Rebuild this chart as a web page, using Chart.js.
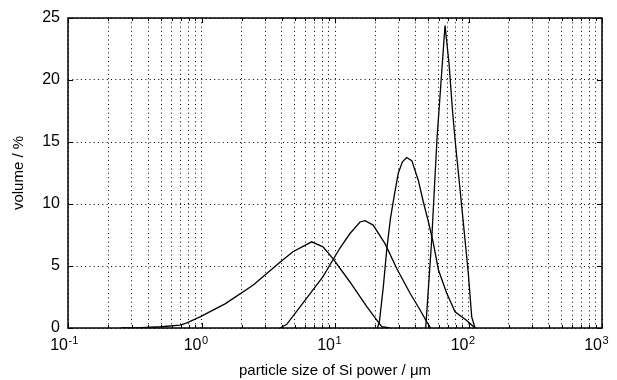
<!DOCTYPE html>
<html><head><meta charset="utf-8">
<script src="https://cdn.jsdelivr.net/npm/chart.js@4"></script>
<style>html,body{margin:0;padding:0;background:#fff;}</style>
</head><body>
<canvas id="c" width="617" height="380"></canvas>
<script>
// ---- data ----
const sizesA  = [0.25, 0.35, 0.5, 0.69, 0.77, 0.975, 1.5, 2.43, 3.87, 4.84, 6.68, 8.13, 9.66, 12.9, 17.3, 20.5, 22.4, 25.8];
const volumeA = [0, 0.02, 0.1, 0.24, 0.4, 0.9, 1.95, 3.45, 5.3, 6.15, 6.95, 6.55, 5.6, 3.73, 1.72, 0.65, 0.1, 0];

const sizesB  = [3.87, 4.35, 5.75, 8.13, 10.9, 12.9, 15.4, 16.8, 19.3, 23.7, 29.0, 36.5, 43.4, 48.7, 52];
const volumeB = [0, 0.3, 2.0, 4.15, 6.45, 7.6, 8.55, 8.65, 8.3, 6.8, 4.8, 2.8, 1.45, 0.5, 0];

const sizesC  = [20.8, 21.5, 23.0, 24.4, 26.0, 27.4, 29.8, 32, 34.4, 37.6, 42.1, 45.8, 50.0, 54.6, 59.5, 68.7, 79.3, 97.0, 112];
const volumeC = [0, 0.5, 3.3, 6.3, 8.8, 10.3, 12.5, 13.4, 13.75, 13.5, 11.9, 10.2, 8.6, 6.8, 4.7, 2.8, 1.3, 0.6, 0];

const sizesD  = [47.8, 53.0, 58.1, 62.3, 66.7, 71.5, 75.8, 79.3, 89.0, 99.7, 105.7, 111.9];
const volumeD = [0, 7.1, 15.3, 19.9, 24.4, 21.3, 17.6, 15.2, 9.8, 4.4, 0.9, 0];

const xMajorTicks = [0.1, 1, 10, 100, 1000];
const xTickBase   = ['10', '10', '10', '10', '10'];
const xExponents  = ['-1', '0', '1', '2', '3'];
const yTicks = [0, 5, 10, 15, 20, 25];
const xTitle = 'particle size of Si power / \u03BCm';
const yTitle = 'volume / %';

// all log ticks (majors + 2..9 minors)
const xAllTicks = [];
for (let i = 0; i < xMajorTicks.length; i++) {
  xAllTicks.push(xMajorTicks[i]);
  if (i < xMajorTicks.length - 1) for (let k = 2; k <= 9; k++) xAllTicks.push(+(k * xMajorTicks[i]).toPrecision(6));
}
const majorIndex = v => xMajorTicks.findIndex(m => Math.abs(m - v) < 1e-9);

const toPts = (xs, ys) => xs.map((x, i) => ({x, y: ys[i]}));
const lineStyle = {borderColor: '#000', borderWidth: 1.3, pointRadius: 0, tension: 0, fill: false};

const FONT = "'Liberation Sans', Arial, sans-serif";

const boxPlugin = {
  id: 'matlabBox',
  afterDraw(chart) {
    const {ctx, chartArea: {left, right, top, bottom}, scales: {x, y}} = chart;
    ctx.save();
    ctx.setLineDash([]);
    ctx.strokeStyle = '#000';
    ctx.lineWidth = 1;
    ctx.beginPath();
    xAllTicks.forEach(v => {
      const px = Math.round(x.getPixelForValue(v)) + 0.5;
      const len = majorIndex(v) >= 0 ? 5 : 3;
      ctx.moveTo(px, bottom); ctx.lineTo(px, bottom - len);
      ctx.moveTo(px, top); ctx.lineTo(px, top + len);
    });
    yTicks.forEach(v => {
      const py = Math.round(y.getPixelForValue(v)) + 0.5;
      ctx.moveTo(left, py); ctx.lineTo(left + 5, py);
      ctx.moveTo(right, py); ctx.lineTo(right - 5, py);
    });
    ctx.stroke();
    ctx.lineWidth = 1.5;
    ctx.strokeRect(left, top, right - left, bottom - top);
    // exponents of the x tick labels (superscripts)
    ctx.fillStyle = '#000';
    ctx.font = '11px ' + FONT;
    ctx.textAlign = 'left';
    ctx.textBaseline = 'alphabetic';
    xMajorTicks.forEach((v, i) => {
      const px = x.getPixelForValue(v);
      ctx.fillText(xExponents[i], px + 0.5, 344);
    });
    ctx.restore();
  }
};

new Chart(document.getElementById('c'), {
  type: 'line',
  data: {
    datasets: [
      {label: 'A', data: toPts(sizesA, volumeA), ...lineStyle},
      {label: 'B', data: toPts(sizesB, volumeB), ...lineStyle},
      {label: 'C', data: toPts(sizesC, volumeC), ...lineStyle},
      {label: 'D', data: toPts(sizesD, volumeD), ...lineStyle}
    ]
  },
  options: {
    responsive: false,
    animation: false,
    layout: {padding: {left: 0, right: 15, top: 18, bottom: 0}},
    plugins: {legend: {display: false}, tooltip: {enabled: false}},
    scales: {
      x: {
        type: 'logarithmic', min: 0.1, max: 1000,
        afterBuildTicks: s => { s.ticks = xAllTicks.map(v => ({value: v, major: majorIndex(v) >= 0})); },
        afterFit: s => { s.height = 52; },
        grid: {color: '#000', lineWidth: 1, drawTicks: false},
        border: {display: false, dash: [1, 3.3]},
        ticks: {
          autoSkip: false, maxRotation: 0, minRotation: 0, padding: 8, color: '#000', align: 'end',
          font: {family: FONT, size: 16},
          callback: (v) => { const i = majorIndex(v); return i >= 0 ? xTickBase[i] : ''; }
        },
        title: {display: true, text: xTitle, color: '#000', font: {family: FONT, size: 15}, padding: {top: 0, bottom: 0}}
      },
      y: {
        min: 0, max: 25,
        afterBuildTicks: s => { s.ticks = yTicks.map(v => ({value: v})); },
        afterFit: s => { s.width = 68; },
        grid: {color: '#000', lineWidth: 1, drawTicks: false},
        border: {display: false, dash: [1, 3.3]},
        ticks: {padding: 8, color: '#000', font: {family: FONT, size: 16}},
        title: {display: true, text: yTitle, color: '#000', font: {family: FONT, size: 15}, padding: {top: 10, bottom: 0}}
      }
    }
  },
  plugins: [boxPlugin]
});
</script>
</body></html>
